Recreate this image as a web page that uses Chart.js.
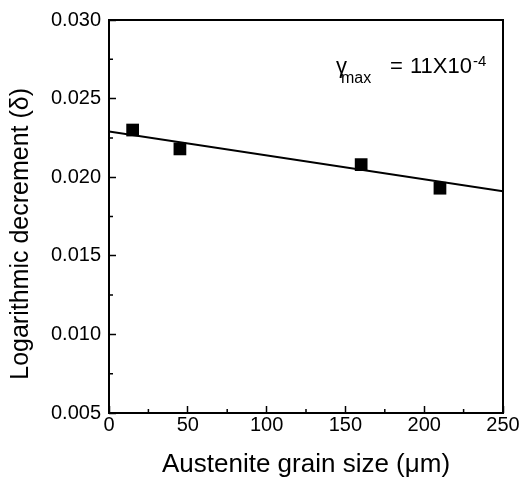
<!DOCTYPE html>
<html>
<head>
<meta charset="utf-8">
<script src="https://cdn.jsdelivr.net/npm/chart.js@4.4.1/dist/chart.umd.min.js"></script>
<style>
  html, body { margin: 0; padding: 0; background: #fff; }
  #wrap { width: 520px; height: 480px; }
</style>
</head>
<body>
<div id="wrap"><canvas id="c"></canvas></div>
<script>
// Logarithmic decrement vs austenite grain size — measured points + linear fit.
const grainSize = [15, 45, 160, 210];
const decrement = [0.0230, 0.0218, 0.0208, 0.0193];
const fitX = [0, 250];
const fitY = [0.0229, 0.0191];
const xTicks = [0, 50, 100, 150, 200, 250];
const yTicks = [0.005, 0.010, 0.015, 0.020, 0.025, 0.030];
const xMinor = [25, 75, 125, 175, 225];
const yMinor = [0.0075, 0.0125, 0.0175, 0.0225, 0.0275];

const FONT = "'Liberation Sans', Arial, sans-serif";

// Box frame, minor ticks (inward) and the gamma_max note.
const decorPlugin = {
  id: "decor",
  afterDraw(chart) {
    const { ctx, chartArea: a, scales } = chart;
    ctx.save();
    ctx.strokeStyle = "#000";
    ctx.lineWidth = 2;
    ctx.strokeRect(a.left, a.top, a.right - a.left, a.bottom - a.top);

    ctx.lineWidth = 1.5;
    ctx.beginPath();
    xMinor.forEach((v) => {
      const px = scales.x.getPixelForValue(v);
      ctx.moveTo(px, a.bottom);
      ctx.lineTo(px, a.bottom - 4);
    });
    yMinor.forEach((v) => {
      const py = scales.y.getPixelForValue(v);
      ctx.moveTo(a.left, py);
      ctx.lineTo(a.left + 4, py);
    });
    ctx.stroke();

    // note text
    ctx.fillStyle = "#000";
    ctx.textBaseline = "alphabetic";
    ctx.textAlign = "left";
    const x0 = a.left + 227;
    const y0 = a.top + 53;
    ctx.font = "22px " + FONT;
    ctx.fillText("γ", x0, y0);
    ctx.font = "16px " + FONT;
    ctx.fillText("max", x0 + 5, y0 + 10);
    ctx.font = "22px " + FONT;
    ctx.fillText("=", x0 + 54, y0);
    ctx.fillText("11X10", x0 + 74, y0);
    const w = ctx.measureText("11X10").width;
    ctx.font = "15px " + FONT;
    ctx.fillText("-4", x0 + 75 + w, y0 - 7);
    ctx.restore();
  },
};

new Chart(document.getElementById("c"), {
  type: "scatter",
  data: {
    datasets: [
      {
        label: "measured",
        data: grainSize.map((g, i) => ({ x: g, y: decrement[i] })),
        pointStyle: "rect",
        pointRadius: 9,
        backgroundColor: "#000",
        borderColor: "#000",
        borderWidth: 0,
        order: 0,
      },
      {
        label: "fit",
        data: fitX.map((g, i) => ({ x: g, y: fitY[i] })),
        showLine: true,
        pointRadius: 0,
        borderColor: "#000",
        borderWidth: 2,
        order: 1,
      },
    ],
  },
  options: {
    responsive: true,
    maintainAspectRatio: false,
    animation: false,
    layout: { padding: { top: 20, right: 17, left: 0, bottom: 0 } },
    plugins: {
      legend: { display: false },
      tooltip: { enabled: false },
    },
    scales: {
      x: {
        type: "linear",
        min: 0,
        max: 250,
        afterBuildTicks: (s) => { s.ticks = xTicks.map((v) => ({ value: v })); },
        afterFit: (s) => {
          s.height = 67;
          s.paddingLeft = 0;
          s.paddingRight = 0;
        },
        border: { display: false },
        grid: {
          drawOnChartArea: false,
          drawTicks: true,
          tickLength: -7,
          tickWidth: 1.5,
          tickColor: "#000",
        },
        ticks: {
          color: "#000",
          padding: 7,
          maxRotation: 0,
          font: { family: FONT, size: 20 },
        },
        title: {
          display: true,
          text: "Austenite grain size (μm)",
          color: "#000",
          font: { family: FONT, size: 26 },
          padding: { top: 0, bottom: 0 },
        },
      },
      y: {
        type: "linear",
        min: 0.005,
        max: 0.030,
        afterBuildTicks: (s) => { s.ticks = yTicks.map((v) => ({ value: v })); },
        afterFit: (s) => {
          s.width = 109;
          s.paddingTop = 0;
          s.paddingBottom = 0;
        },
        border: { display: false },
        grid: {
          drawOnChartArea: false,
          drawTicks: true,
          tickLength: -7,
          tickWidth: 1.5,
          tickColor: "#000",
        },
        ticks: {
          color: "#000",
          padding: 15,
          font: { family: FONT, size: 20 },
          callback: (v) => Number(v).toFixed(3),
        },
        title: {
          display: true,
          text: "Logarithmic decrement (δ)     ",
          color: "#000",
          font: { family: FONT, size: 25 },
          padding: { top: 6, bottom: 0 },
        },
      },
    },
  },
  plugins: [decorPlugin],
});
</script>
</body>
</html>
